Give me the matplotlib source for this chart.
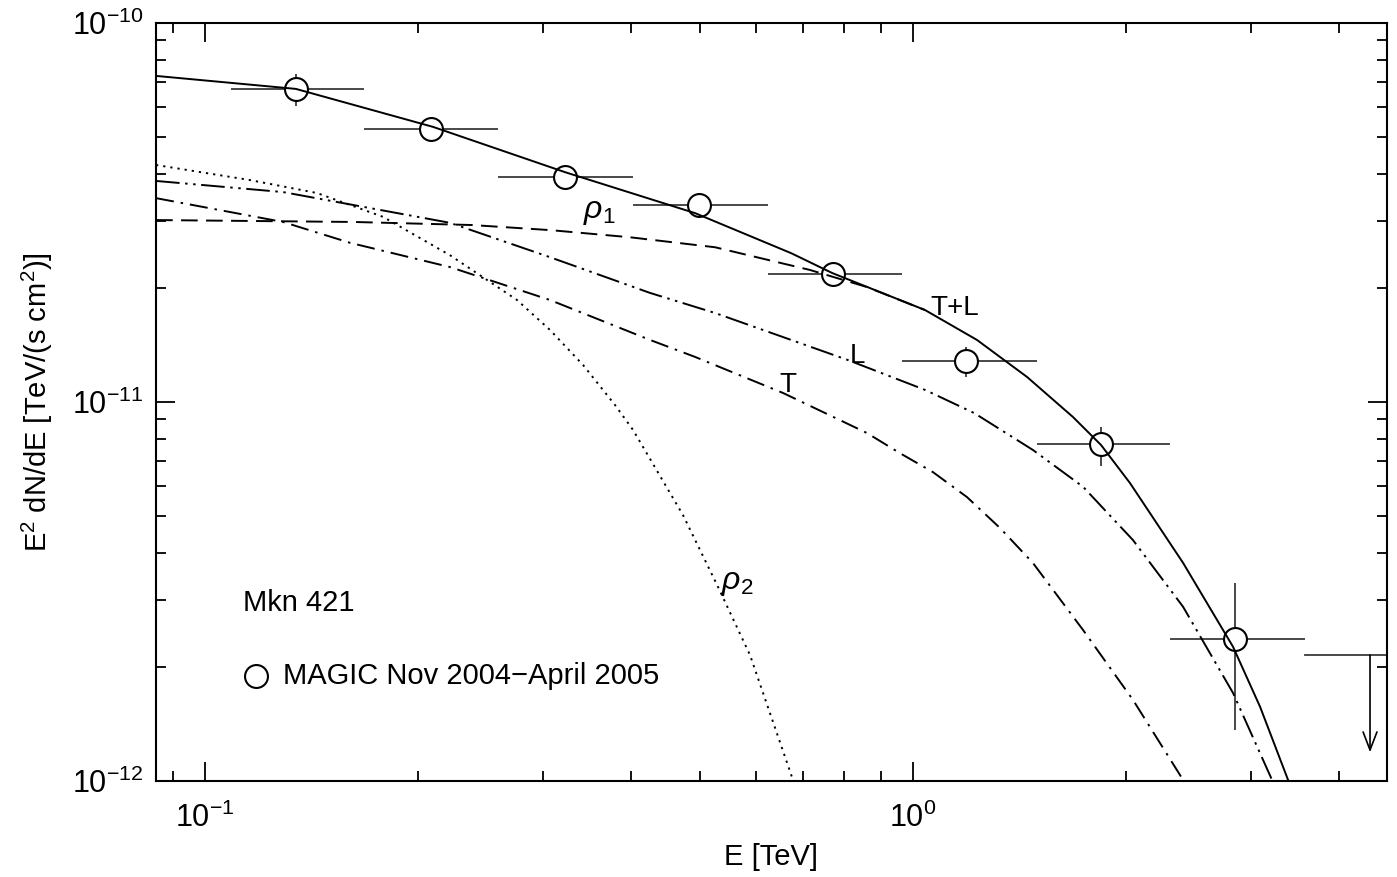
import numpy as np
import matplotlib.pyplot as plt
from matplotlib.ticker import LogLocator, NullFormatter, FixedLocator

plt.rcParams['font.family'] = ['Liberation Sans', 'DejaVu Sans']
plt.rcParams['mathtext.fontset'] = 'custom'
plt.rcParams['mathtext.rm'] = 'Liberation Sans'
plt.rcParams['mathtext.it'] = 'Liberation Sans:italic'
plt.rcParams['lines.scale_dashes'] = False

# MAGIC data points (Mkn 421, Nov 2004 - April 2005)
e_data = [0.1344, 0.2085, 0.3225, 0.4984, 0.7709, 1.188, 1.843, 2.850]
e_lo = [0.1088, 0.168, 0.2596, 0.4023, 0.624, 0.965, 1.496, 2.307]
e_hi = [0.168, 0.2596, 0.4023, 0.624, 0.965, 1.496, 2.307, 3.58]
f_data = [6.70e-11, 5.25e-11, 3.92e-11, 3.31e-11, 2.18e-11, 1.283e-11, 7.75e-12, 2.37e-12]
f_lo = [6.04e-11, 5.0e-11, 3.75e-11, 3.18e-11, 2.09e-11, 1.164e-11, 6.78e-12, 1.36e-12]
f_hi = [7.33e-11, 5.5e-11, 4.09e-11, 3.44e-11, 2.27e-11, 1.40e-11, 8.59e-12, 3.33e-12]

# upper limit in the last bin
ul_e = [3.58, 4.7]
ul_f = 2.15e-12
ul_arrow_e = 4.42
ul_arrow_tip = 1.19e-12

# model curves
tl_e = [0.0853, 0.1344, 0.2099, 0.3225, 0.4922, 0.6727, 0.7685, 1.040, 1.231, 1.449,
        1.682, 1.843, 2.025, 2.407, 2.831, 3.092, 3.386, 3.42]
tl_f = [7.25e-11, 6.70e-11, 5.32e-11, 4.04e-11, 3.15e-11, 2.47e-11, 2.19e-11, 1.748e-11,
        1.458e-11, 1.164e-11, 9.13e-12, 7.70e-12, 6.11e-12, 3.76e-12, 2.26e-12, 1.568e-12,
        1.006e-12, 9.5e-13]

l_e = [0.0853, 0.1289, 0.2218, 0.3071, 0.4251, 0.5253, 0.8094, 1.040, 1.220,
       1.477, 1.739, 2.045, 2.407, 2.831, 3.214, 3.25]
l_f = [3.83e-11, 3.58e-11, 2.97e-11, 2.41e-11, 1.94e-11, 1.717e-11, 1.290e-11,
       1.076e-11, 9.35e-12, 7.47e-12, 5.97e-12, 4.32e-12, 2.88e-12, 1.707e-12, 1.006e-12,
       9.5e-13]

t_e = [0.0853, 0.1289, 0.1603, 0.2218, 0.3071, 0.4251, 0.4922, 0.6554, 0.861, 0.958,
       1.067, 1.192, 1.327, 1.477, 1.739, 2.045, 2.407, 2.44]
t_f = [3.45e-11, 2.985e-11, 2.63e-11, 2.27e-11, 1.858e-11, 1.458e-11, 1.315e-11, 1.056e-11,
       8.28e-12, 7.33e-12, 6.53e-12, 5.61e-12, 4.65e-12, 3.76e-12, 2.50e-12, 1.636e-12,
       1.006e-12, 9.5e-13]

rho1_e = [0.0853, 0.1623, 0.2383, 0.3081, 0.3985, 0.5253, 0.7153, 0.861, 1.040]
rho1_f = [3.02e-11, 2.985e-11, 2.93e-11, 2.84e-11, 2.72e-11, 2.56e-11, 2.23e-11, 2.01e-11, 1.748e-11]

rho2_e = [0.0853, 0.1158, 0.1439, 0.1784, 0.2218, 0.2759, 0.3071, 0.342, 0.3794, 0.4023,
          0.4733, 0.5288, 0.5885, 0.6768, 0.69]
rho2_f = [4.22e-11, 3.85e-11, 3.56e-11, 3.08e-11, 2.44e-11, 1.858e-11, 1.549e-11, 1.252e-11,
          9.82e-12, 8.44e-12, 5.03e-12, 3.29e-12, 2.15e-12, 1.006e-12, 9.5e-13]

fig, ax = plt.subplots(figsize=(13.97, 8.77), dpi=100)
fig.subplots_adjust(left=0.1117, right=0.9928, bottom=0.1095, top=0.9738)

e = np.array(e_data)
f = np.array(f_data)
xerr = [e - np.array(e_lo), np.array(e_hi) - e]
yerr = [f - np.array(f_lo), np.array(f_hi) - f]
ax.errorbar(e, f, xerr=xerr, yerr=yerr, fmt='none', ecolor='#3a3a3a',
            elinewidth=1.3, capsize=0, zorder=1)
# white discs hide the error bars inside the circles, curves still show through
ax.plot(e, f, 'o', ms=16.5, mfc='white', mec='none', zorder=2)

ax.plot(ul_e, [ul_f, ul_f], color='#3a3a3a', lw=1.3, zorder=1)
ax.annotate('', xy=(ul_arrow_e, ul_arrow_tip), xytext=(ul_arrow_e, ul_f),
            arrowprops=dict(arrowstyle='->,head_length=1.3,head_width=0.5',
                            color='black', lw=1.2, shrinkA=0, shrinkB=0))

lw = 1.4
ax.plot(tl_e, tl_f, color='black', lw=lw, zorder=3)
ax.plot(l_e, l_f, color='black', lw=lw, zorder=3,
        linestyle=(0, (17, 4, 1.8, 4, 1.8, 4)))
ax.plot(t_e, t_f, color='black', lw=lw, zorder=3,
        linestyle=(0, (13, 5, 1.8, 5)))
ax.plot(rho1_e, rho1_f, color='black', lw=lw, zorder=3,
        linestyle=(0, (12, 6)))
ax.plot(rho2_e, rho2_f, color='black', lw=lw, zorder=3,
        linestyle=(0, (1.6, 3.6)))

ax.plot(e, f, 'o', ms=16.5, mfc='none', mec='black', mew=1.5, zorder=4)

fs = 21
ax.text(0.361, 3.17e-11, r'$\rho_1$', fontsize=23, ha='center', va='center')
ax.text(1.146, 1.77e-11, 'T+L', fontsize=20, ha='center', va='center')
ax.text(0.834, 1.322e-11, 'L', fontsize=20, ha='center', va='center')
ax.text(0.666, 1.109e-11, 'T', fontsize=20, ha='center', va='center')
ax.text(0.564, 3.33e-12, r'$\rho_2$', fontsize=23, ha='center', va='center')

ax.text(0.0707, 0.2348, 'Mkn 421', fontsize=fs, transform=ax.transAxes,
        ha='left', va='center')
ax.plot([0.0812], [0.1385], 'o', ms=16.5, mfc='white', mec='black', mew=1.5,
        transform=ax.transAxes, clip_on=False)
ax.text(0.1032, 0.1385, 'MAGIC Nov 2004\u2212April 2005', fontsize=fs,
        transform=ax.transAxes, ha='left', va='center')

ax.set_xscale('log')
ax.set_yscale('log')
ax.set_xlim(0.0853, 4.67)
ax.set_ylim(1e-12, 1e-10)

ax.xaxis.set_major_locator(FixedLocator([0.1, 1.0]))
ax.yaxis.set_major_locator(FixedLocator([1e-12, 1e-11, 1e-10]))
ax.xaxis.set_minor_locator(LogLocator(base=10, subs=np.arange(2, 10)))
ax.yaxis.set_minor_locator(LogLocator(base=10, subs=np.arange(2, 10)))
ax.xaxis.set_minor_formatter(NullFormatter())
ax.yaxis.set_minor_formatter(NullFormatter())
ax.tick_params(which='both', direction='in', top=True, right=True,
               labelsize=22, width=1.3)
ax.tick_params(which='major', length=14)
ax.tick_params(which='minor', length=7.5)
ax.tick_params(axis='x', which='major', pad=16)
ax.tick_params(axis='y', which='major', pad=9)
for s in ax.spines.values():
    s.set_linewidth(1.5)

ax.set_xlabel('E [TeV]', fontsize=fs, labelpad=6)
ax.set_ylabel(r'E$^2$ dN/dE [TeV/(s cm$^2$)]', fontsize=fs, labelpad=12)

fig.savefig('out.png', dpi=100)
